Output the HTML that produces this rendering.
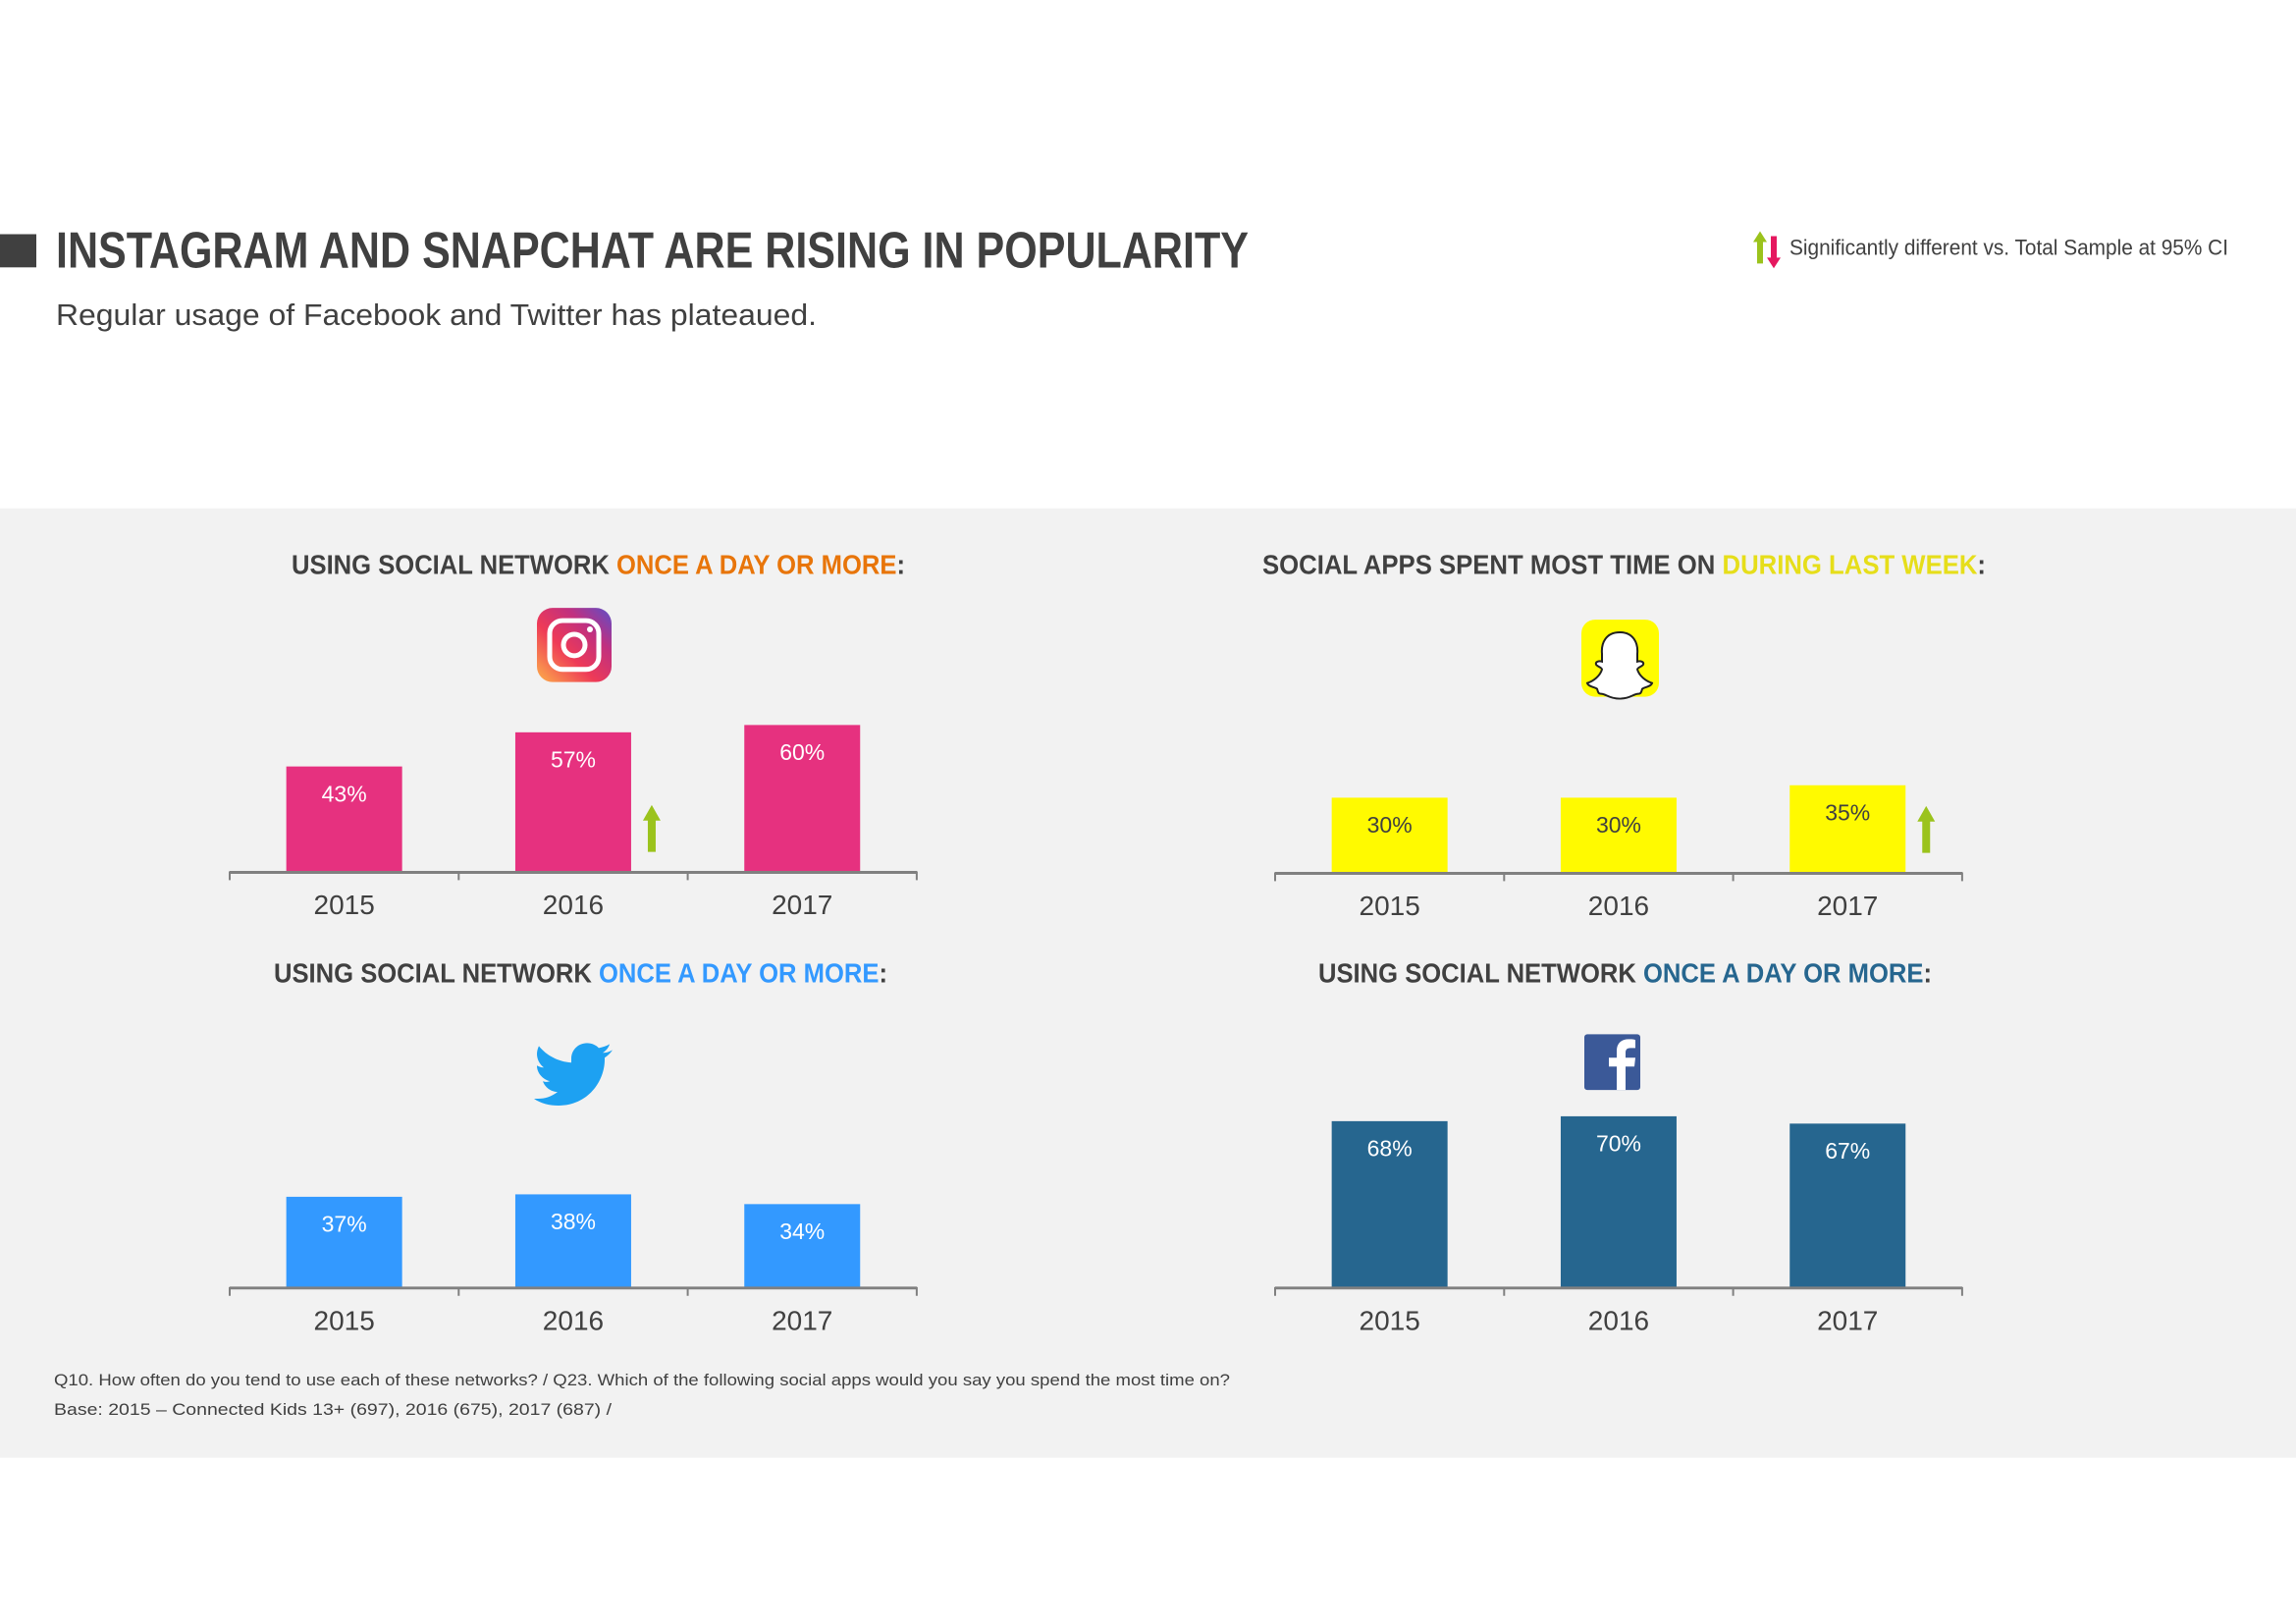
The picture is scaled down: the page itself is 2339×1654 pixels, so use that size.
<!DOCTYPE html>
<html><head><meta charset="utf-8"><style>
html,body{margin:0;padding:0;background:#fff;}
svg{display:block;}
text{font-family:"Liberation Sans Narrow","Liberation Sans",sans-serif;}
</style></head><body>
<svg id="root" width="2339" height="1654" viewBox="0 0 2339 1654" xmlns="http://www.w3.org/2000/svg">
<rect x="0" y="0" width="2339" height="1654" fill="#ffffff"/>
<g transform="scale(1,0.9938)">
<rect x="0" y="240" width="37" height="34" fill="#404040"/>
<text x="57" y="274" font-size="52" font-weight="bold" fill="#404040" textLength="1215" lengthAdjust="spacingAndGlyphs">INSTAGRAM AND SNAPCHAT ARE RISING IN POPULARITY</text>
<text x="57" y="333" font-size="31" fill="#404040" textLength="775" lengthAdjust="spacingAndGlyphs">Regular usage of Facebook and Twitter has plateaued.</text>
<g>
  <polygon points="1786,248 1793,237 1800,248 1796,248 1796,270 1790,270 1790,248" fill="#9BC31C"/>
  <polygon points="1804,242 1810,242 1810,264 1814,264 1807,275 1800,264 1804,264" fill="#E5185F"/>
  <text x="1823" y="261" font-size="22" fill="#404040" textLength="447" lengthAdjust="spacingAndGlyphs">Significantly different vs. Total Sample at 95% CI</text>
</g>
<rect x="0" y="521" width="2339" height="973" fill="#F2F2F2"/>

<g id="icons">
  <g>
    <defs>
      <linearGradient id="ig" x1="0" y1="1" x2="1" y2="0">
        <stop offset="0" stop-color="#FDB04A"/><stop offset="0.4" stop-color="#EE3A57"/><stop offset="0.7" stop-color="#C1307F"/><stop offset="1" stop-color="#5B4FC9"/>
      </linearGradient>
    </defs>
    <rect x="547" y="623" width="76" height="76" rx="16" fill="url(#ig)"/>
    <rect x="560" y="636" width="50" height="50" rx="13" fill="none" stroke="#fff" stroke-width="5"/>
    <circle cx="585" cy="661" r="11" fill="none" stroke="#fff" stroke-width="5"/>
    <circle cx="601" cy="645" r="3" fill="#fff"/>
  </g>
  <g>
    <rect x="1611" y="635" width="79" height="79" rx="14" fill="#FFFC00"/>
    <path d="M1650,648 c-14,0 -19,11 -18,22 l0,8 c-3,-1 -7,0 -6,3 c1,2 6,3 6,5 c-2,7 -9,12 -15,14 c1,4 8,4 10,6 c1,3 1,5 4,5 c5,0 8,5 19,5 c11,0 14,-5 19,-5 c3,0 3,-2 4,-5 c2,-2 9,-2 10,-6 c-6,-2 -13,-7 -15,-14 c0,-2 5,-3 6,-5 c1,-3 -3,-4 -6,-3 l0,-8 c1,-11 -4,-22 -18,-22 z" fill="#fff" stroke="#222" stroke-width="2"/>
  </g>
  <g>
    <path d="M624,1076 c-3,2 -7,3 -10,3 c3,-2 6,-5 7,-9 c-3,2 -7,3 -11,4 c-3,-3 -7,-5 -12,-5 c-9,0 -16,7 -16,16 c0,1 0,2 0,4 c-13,-1 -25,-7 -33,-17 c-1,2 -2,5 -2,8 c0,6 3,11 7,14 c-3,0 -5,-1 -7,-2 c0,8 6,14 13,16 c-2,1 -5,1 -7,0 c2,6 8,11 15,11 c-6,5 -13,7 -20,7 c-1,0 -3,0 -4,0 c7,5 16,7 25,7 c30,0 47,-25 47,-47 c0,-1 0,-1 0,-2 c3,-2 6,-5 8,-8 z" fill="#1DA1F2"/>
  </g>
  <g>
    <rect x="1614" y="1060" width="57" height="57" rx="3" fill="#3B5998"/>
    <path d="M1647,1117 l0,-24 l-8,0 l0,-9 l8,0 l0,-7 c0,-8 5,-12 12,-12 c3,0 6,0 7,1 l0,8 l-5,0 c-4,0 -5,2 -5,5 l0,5 l10,0 l-1,9 l-9,0 l0,24 z" fill="#fff"/>
  </g>
</g>
<g id="charts"></g>
<g>
  <text x="55" y="1420" font-size="17" fill="#404040" textLength="1198" lengthAdjust="spacingAndGlyphs">Q10. How often do you tend to use each of these networks? / Q23. Which of the following social apps would you say you spend the most time on?</text>
  <text x="55" y="1450" font-size="17" fill="#404040" textLength="568" lengthAdjust="spacingAndGlyphs">Base: 2015 – Connected Kids 13+ (697), 2016 (675), 2017 (687) /</text>
</g>
</g>
</svg>
<script>
const categories = ["2015", "2016", "2017"];
const instagramValues = [43, 57, 60];
const snapchatValues = [30, 30, 35];
const twitterValues = [37, 38, 34];
const facebookValues = [68, 70, 67];
const instagramSig = [false, true, false];
const snapchatSig = [false, false, true];
const twitterSig = [false, false, false];
const facebookSig = [false, false, false];

const NS = "http://www.w3.org/2000/svg";
const root = document.getElementById("charts");
function mk(tag, attrs, parent) {
  const e = document.createElementNS(NS, tag);
  for (const k in attrs) e.setAttribute(k, attrs[k]);
  parent.appendChild(e);
  return e;
}
const charts = [
  {name:"instagram", vals:instagramValues, sig:instagramSig, color:"#E6317F", label:"#fff", x0:234, base:893, title:["USING SOCIAL NETWORK ","ONCE A DAY OR MORE"], tc:"#E8750A", tx:297, tw:625, ty:588, scale:2.5},
  {name:"snapchat", vals:snapchatValues, sig:snapchatSig, color:"#FFFA00", label:"#404040", x0:1299, base:894, title:["SOCIAL APPS SPENT MOST TIME ON ","DURING LAST WEEK"], tc:"#E6DE1A", tx:1286, tw:737, ty:588, scale:2.55},
  {name:"twitter", vals:twitterValues, sig:twitterSig, color:"#3399FF", label:"#fff", x0:234, base:1319, title:["USING SOCIAL NETWORK ","ONCE A DAY OR MORE"], tc:"#3399FF", tx:279, tw:625, ty:1007, scale:2.5},
  {name:"facebook", vals:facebookValues, sig:facebookSig, color:"#26668F", label:"#fff", x0:1299, base:1319, title:["USING SOCIAL NETWORK ","ONCE A DAY OR MORE"], tc:"#26668F", tx:1343, tw:625, ty:1007, scale:2.5}
];
const slot = 233.3, barW = 118, axisW = 700;
charts.forEach(c => {
  const g = mk("g", {}, root);
  
  
  const t = mk("text", {x:c.tx, y:c.ty, "font-size":28, "font-weight":"bold", fill:"#404040", textLength:c.tw, lengthAdjust:"spacingAndGlyphs"}, g);
  
  
  const s1 = mk("tspan", {}, t); s1.textContent = c.title[0];
  const s2 = mk("tspan", {fill:c.tc}, t); s2.textContent = c.title[1];
  const s3 = mk("tspan", {}, t); s3.textContent = ":";
  const yOf = v => c.base - v * c.scale;
  c.vals.forEach((v, i) => {
    const cx = c.x0 + slot * (i + 0.5);
    const r = mk("rect", {x:cx - barW/2, y:yOf(v), width:barW, height:c.base - yOf(v), fill:c.color}, g);
    
    
    const l = mk("text", {x:cx, y:yOf(v) + 36, "font-size":23, fill:c.label, "text-anchor":"middle"}, g);
    
    
    l.textContent = v + "%";
    const yl = mk("text", {x:cx, y:c.base + 44, "font-size":28, fill:"#404040", "text-anchor":"middle"}, g);
    
    
    yl.textContent = categories[i];
    if (c.sig[i]) {
      const ax = cx + barW/2 + 21;
      const ar = mk("polygon", {fill:"#9BC31C"}, g);
      ar.setAttribute('points', `${ax-9},${c.base-52} ${ax},${c.base-68} ${ax+9},${c.base-52} ${ax+4},${c.base-52} ${ax+4},${c.base-20} ${ax-4},${c.base-20} ${ax-4},${c.base-52}`);
      
      
    }
  });
  const ax = mk("line", {x1:c.x0, y1:c.base + 1, x2:c.x0 + axisW, y2:c.base + 1, stroke:"#808080", "stroke-width":3}, g);
  
  
  for (let i = 0; i <= categories.length; i++) {
    const tk = mk("line", {x1:c.x0 + slot*i, y1:c.base, x2:c.x0 + slot*i, y2:c.base + 9, stroke:"#808080", "stroke-width":2}, g);
    
    
  }
});
</script>
</body></html>
